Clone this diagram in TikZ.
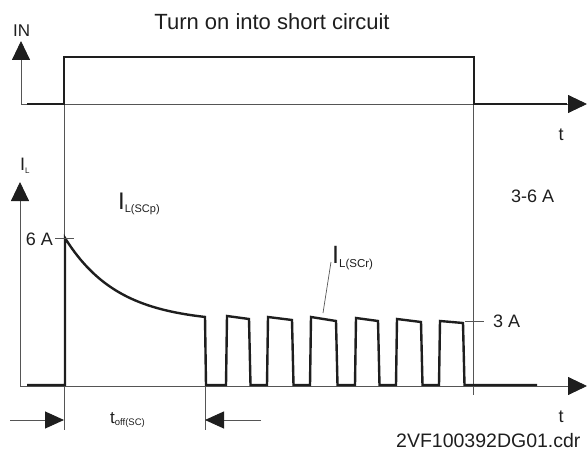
\documentclass[tikz,border=0pt]{standalone}
\usepackage{fontspec}
\setmainfont{Liberation Sans}
\usetikzlibrary{arrows.meta,positioning}
\definecolor{scAxis}{RGB}{85,85,85}
\definecolor{scSignal}{RGB}{30,30,30}
\newcommand{\fsz}[1]{\fontsize{#1}{#1}\selectfont}

\begin{document}
\begin{tikzpicture}[x=1pt,y=-1pt,
  axis/.style={scAxis, line width=0.9pt},
  axisarrow/.style={axis, -{Triangle[length=19pt,width=18pt,color=scSignal]}},
  signal/.style={scSignal, line width=2.4pt, line join=miter},
  guide/.style={scAxis, line width=0.7pt},
  lbl/.style={inner sep=0pt, text=scSignal}]
\useasboundingbox (0,0) rectangle (587,460);

% axes
\coordinate (inBase) at (21,104);
\coordinate (inTip) at (21,41);
\coordinate (inEnd) at (587,104);
\coordinate (ilBase) at (20,386);
\coordinate (ilTip) at (20,182);
\coordinate (ilEnd) at (587,386);
\draw[axisarrow] (inBase) -- (inTip);
\draw[axisarrow] (inBase) -- (inEnd);
\draw[axisarrow] (ilBase) -- (ilTip);
\draw[axisarrow] (ilBase) -- (ilEnd);

% time markers
\coordinate (onTop) at (64,57);
\coordinate (onLow) at (64,430);
\coordinate (offTop) at (473,80);
\coordinate (offLow) at (473,395);
\coordinate (rTop) at (205,368);
\coordinate (rLow) at (205,430);
\draw[guide] (onTop) -- (onLow);
\draw[guide] (offTop) -- (offLow);
\draw[guide] (rTop) -- (rLow);

% input signal
\draw[signal] (27,104) -- (64,104) -- (onTop) -- (474,57) -- (474,104) -- (567,104);

% load current
\draw[signal] (27,385) -- (65,385) -- (65,238)
  -- plot[domain=65:205, samples=60] (\x,{238+85*(1-exp(-(\x-65)/53))})
  -- (206,385)
  \foreach \ra/\fa/\ya/\yb in {227/249/316/319, 268/292/317/320, 311/336/317/321,
                               356/378/318/321, 397/421/319/322, 440/463/321/323}
    { -- ({\ra-1},385) -- (\ra,\ya) -- (\fa,\yb) -- ({\fa+1.5},385) }
  -- (537,385);

% ticks
\coordinate (sixL) at (55,238);
\coordinate (sixR) at (74,238);
\coordinate (threeL) at (465,321);
\coordinate (threeR) at (484,321);
\draw[guide] (sixL) -- (sixR);
\draw[guide] (threeL) -- (threeR);

% labels
\node[lbl, anchor=base, font=\fsz{22}] (title) at (272,29.5) {Turn on into short circuit};
\node[lbl, anchor=base west, font=\fsz{17}] (inLbl) at (13,37) {IN};
\node[lbl, anchor=base west] (ilLbl) at (20,170) {\fsz{18}I\raisebox{-3pt}{\fsz{8}L}};
\node[lbl, anchor=base, font=\fsz{18}] (tUp) at (561,140) {t};
\node[lbl, anchor=base, font=\fsz{18}] (tLow) at (561,422) {t};
\node[lbl, anchor=base east, font=\fsz{18}] (sixA) at (53,245) {6 A};
\node[lbl, anchor=base west, font=\fsz{18}] (threeA) at (493,327) {3 A};
\node[lbl, anchor=base west, font=\fsz{18}] (rangeA) at (511,202) {3-6 A};
\node[lbl, anchor=base west] (iPeak) at (118,209) {\fsz{24}I\raisebox{-3pt}{\fsz{11}L(SCp)}};
\node[lbl, anchor=base west] (iRep) at (332,263) {\fsz{25}I\raisebox{-4pt}{\fsz{11.5}L(SCr)}};
\node[lbl, anchor=base west] (tOff) at (110,423) {\fsz{17}t\raisebox{-2pt}{\fsz{9.5}off(SC)}};
\node[lbl, anchor=base west, font=\fsz{19.5}] (fileLbl) at (396,447) {2VF100392DG01.cdr};

% leader and off-time arrows
\coordinate (leadA) at (331,262);
\coordinate (leadB) at (323,313);
\draw[guide] (leadA) -- (leadB);
\coordinate (dimL) at (10,420);
\coordinate (dimR) at (261,420);
\draw[axis, -{Triangle[length=19pt,width=17pt,color=scSignal]}] (dimL) -- (onLow |- dimL);
\draw[axis, -{Triangle[length=19pt,width=17pt,color=scSignal]}] (dimR) -- (rLow |- dimR);
\end{tikzpicture}
\end{document}
